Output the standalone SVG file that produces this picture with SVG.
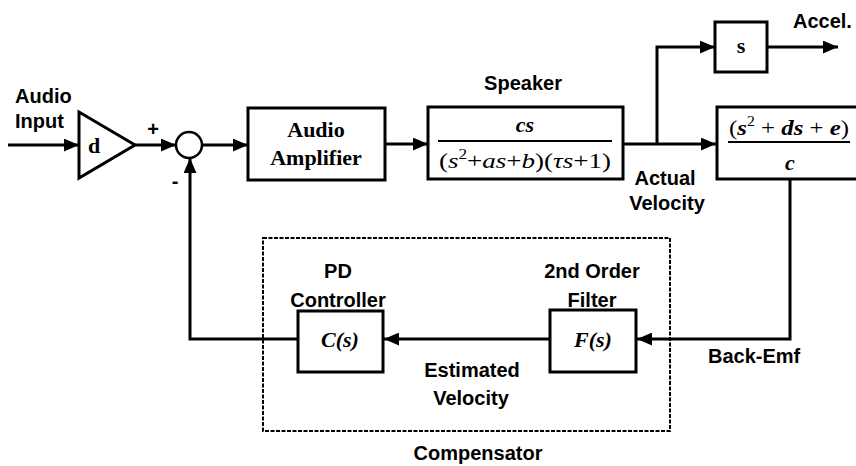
<svg xmlns="http://www.w3.org/2000/svg" width="856" height="466" viewBox="0 0 856 466">
<defs>
<marker id="arr" viewBox="0 0 14 12" refX="14" refY="6" markerWidth="15" markerHeight="13" markerUnits="userSpaceOnUse" orient="auto">
<path d="M0,0 L14,6 L0,12 z" fill="#000"/>
</marker>
<style>
.box{fill:#fff;stroke:#000;stroke-width:3}
.ln{fill:none;stroke:#000;stroke-width:3}
.ar{fill:none;stroke:#000;stroke-width:3;marker-end:url(#arr)}
.lbl{font-family:"Liberation Sans",Arial,sans-serif;font-weight:bold;font-size:20px;fill:#000}
.ser{font-family:"Liberation Serif","Times New Roman",serif;font-size:22px;fill:#000}
.mi{font-style:italic}
.mb{font-weight:bold}
.dash{fill:none;stroke:#000;stroke-width:2;stroke-dasharray:4 1.5}
</style>
</defs>
<rect width="856" height="466" fill="#fff"/>

<g id="compensator">
<rect class="dash" x="263" y="238" width="407" height="193"/>
<text class="lbl" x="478" y="460" text-anchor="middle">Compensator</text>
</g>

<g id="connectors">
<line class="ar" x1="8" y1="145" x2="79" y2="145"/>
<line class="ar" x1="135" y1="145" x2="176" y2="145"/>
<line class="ar" x1="202" y1="145" x2="248" y2="145"/>
<line class="ar" x1="385" y1="144" x2="428" y2="144"/>
<line class="ar" x1="623" y1="144" x2="716" y2="144"/>
<polyline class="ar" points="657,144 657,47 715,47"/>
<line class="ar" x1="767" y1="47" x2="838" y2="47"/>
<polyline class="ar" points="790,179 790,339 637,339"/>
<line class="ar" x1="550" y1="339" x2="384" y2="339"/>
<polyline class="ar" points="298,339 190,339 190,158"/>
</g>

<g id="input">
<text class="lbl" x="15" y="103">Audio</text>
<text class="lbl" x="15" y="128">Input</text>
</g>

<g id="gain">
<polygon points="79,112 135,145 79,178" fill="#fff" stroke="#000" stroke-width="3" stroke-linejoin="miter"/>
<text class="ser mb" x="88" y="153" font-size="20">d</text>
</g>

<g id="sum">
<circle cx="189" cy="145" r="13" fill="#fff" stroke="#000" stroke-width="2.5"/>
<text class="lbl" x="153" y="136" text-anchor="middle" font-size="18">+</text>
<text class="lbl" x="175" y="188" text-anchor="middle" font-size="24">-</text>
</g>

<g id="amplifier">
<rect class="box" x="248" y="108" width="137" height="72"/>
<text class="ser mb" x="316" y="137" text-anchor="middle">Audio</text>
<text class="ser mb" x="316" y="165" text-anchor="middle">Amplifier</text>
</g>

<g id="speaker">
<text class="lbl" x="523" y="90" text-anchor="middle">Speaker</text>
<rect class="box" x="428" y="107" width="195" height="72"/>
<text class="ser mi mb" x="525" y="132" text-anchor="middle" font-size="24">cs</text>
<line x1="438" y1="141" x2="612" y2="141" stroke="#000" stroke-width="2"/>
<text class="ser" x="525" y="168" text-anchor="middle" textLength="172" lengthAdjust="spacingAndGlyphs" font-size="23">(<tspan class="mi">s</tspan><tspan font-size="14" dy="-9">2</tspan><tspan dy="9">+</tspan><tspan class="mi">as</tspan>+<tspan class="mi">b</tspan>)(<tspan class="mi">τs</tspan>+1)</text>
</g>

<g id="velocity-label">
<text class="lbl" x="665" y="185" text-anchor="middle">Actual</text>
<text class="lbl" x="667" y="210" text-anchor="middle">Velocity</text>
</g>

<g id="backemf-block">
<rect class="box" x="717" y="107" width="145" height="72"/>
<text class="ser" x="789" y="135" text-anchor="middle" textLength="120" lengthAdjust="spacingAndGlyphs">(<tspan class="mi mb">s</tspan><tspan font-size="14" dy="-9">2</tspan><tspan dy="9"> + </tspan><tspan class="mi mb">ds</tspan> + <tspan class="mi mb">e</tspan>)</text>
<line x1="728" y1="142" x2="850" y2="142" stroke="#000" stroke-width="2"/>
<text class="ser mi mb" x="790" y="170" text-anchor="middle">c</text>
</g>

<g id="differentiator">
<rect class="box" x="715" y="22" width="52" height="50"/>
<text class="ser mb" x="741" y="53" text-anchor="middle" font-size="20">s</text>
<text class="lbl" x="793" y="28">Accel.</text>
</g>

<g id="controller">
<text class="lbl" x="338" y="278" text-anchor="middle">PD</text>
<text class="lbl" x="338" y="307" text-anchor="middle">Controller</text>
<rect class="box" x="298" y="311" width="85" height="61"/>
<text class="ser mi mb" x="340" y="347" text-anchor="middle" font-size="24">C(s)</text>
</g>

<g id="filter">
<text class="lbl" x="592" y="278" text-anchor="middle">2nd Order</text>
<text class="lbl" x="592" y="307" text-anchor="middle">Filter</text>
<rect class="box" x="550" y="310" width="86" height="62"/>
<text class="ser mi mb" x="593" y="347" text-anchor="middle" font-size="24">F(s)</text>
</g>

<g id="labels">
<text class="lbl" x="472" y="377" text-anchor="middle">Estimated</text>
<text class="lbl" x="471" y="405" text-anchor="middle">Velocity</text>
<text class="lbl" x="708" y="363">Back-Emf</text>
</g>
</svg>
